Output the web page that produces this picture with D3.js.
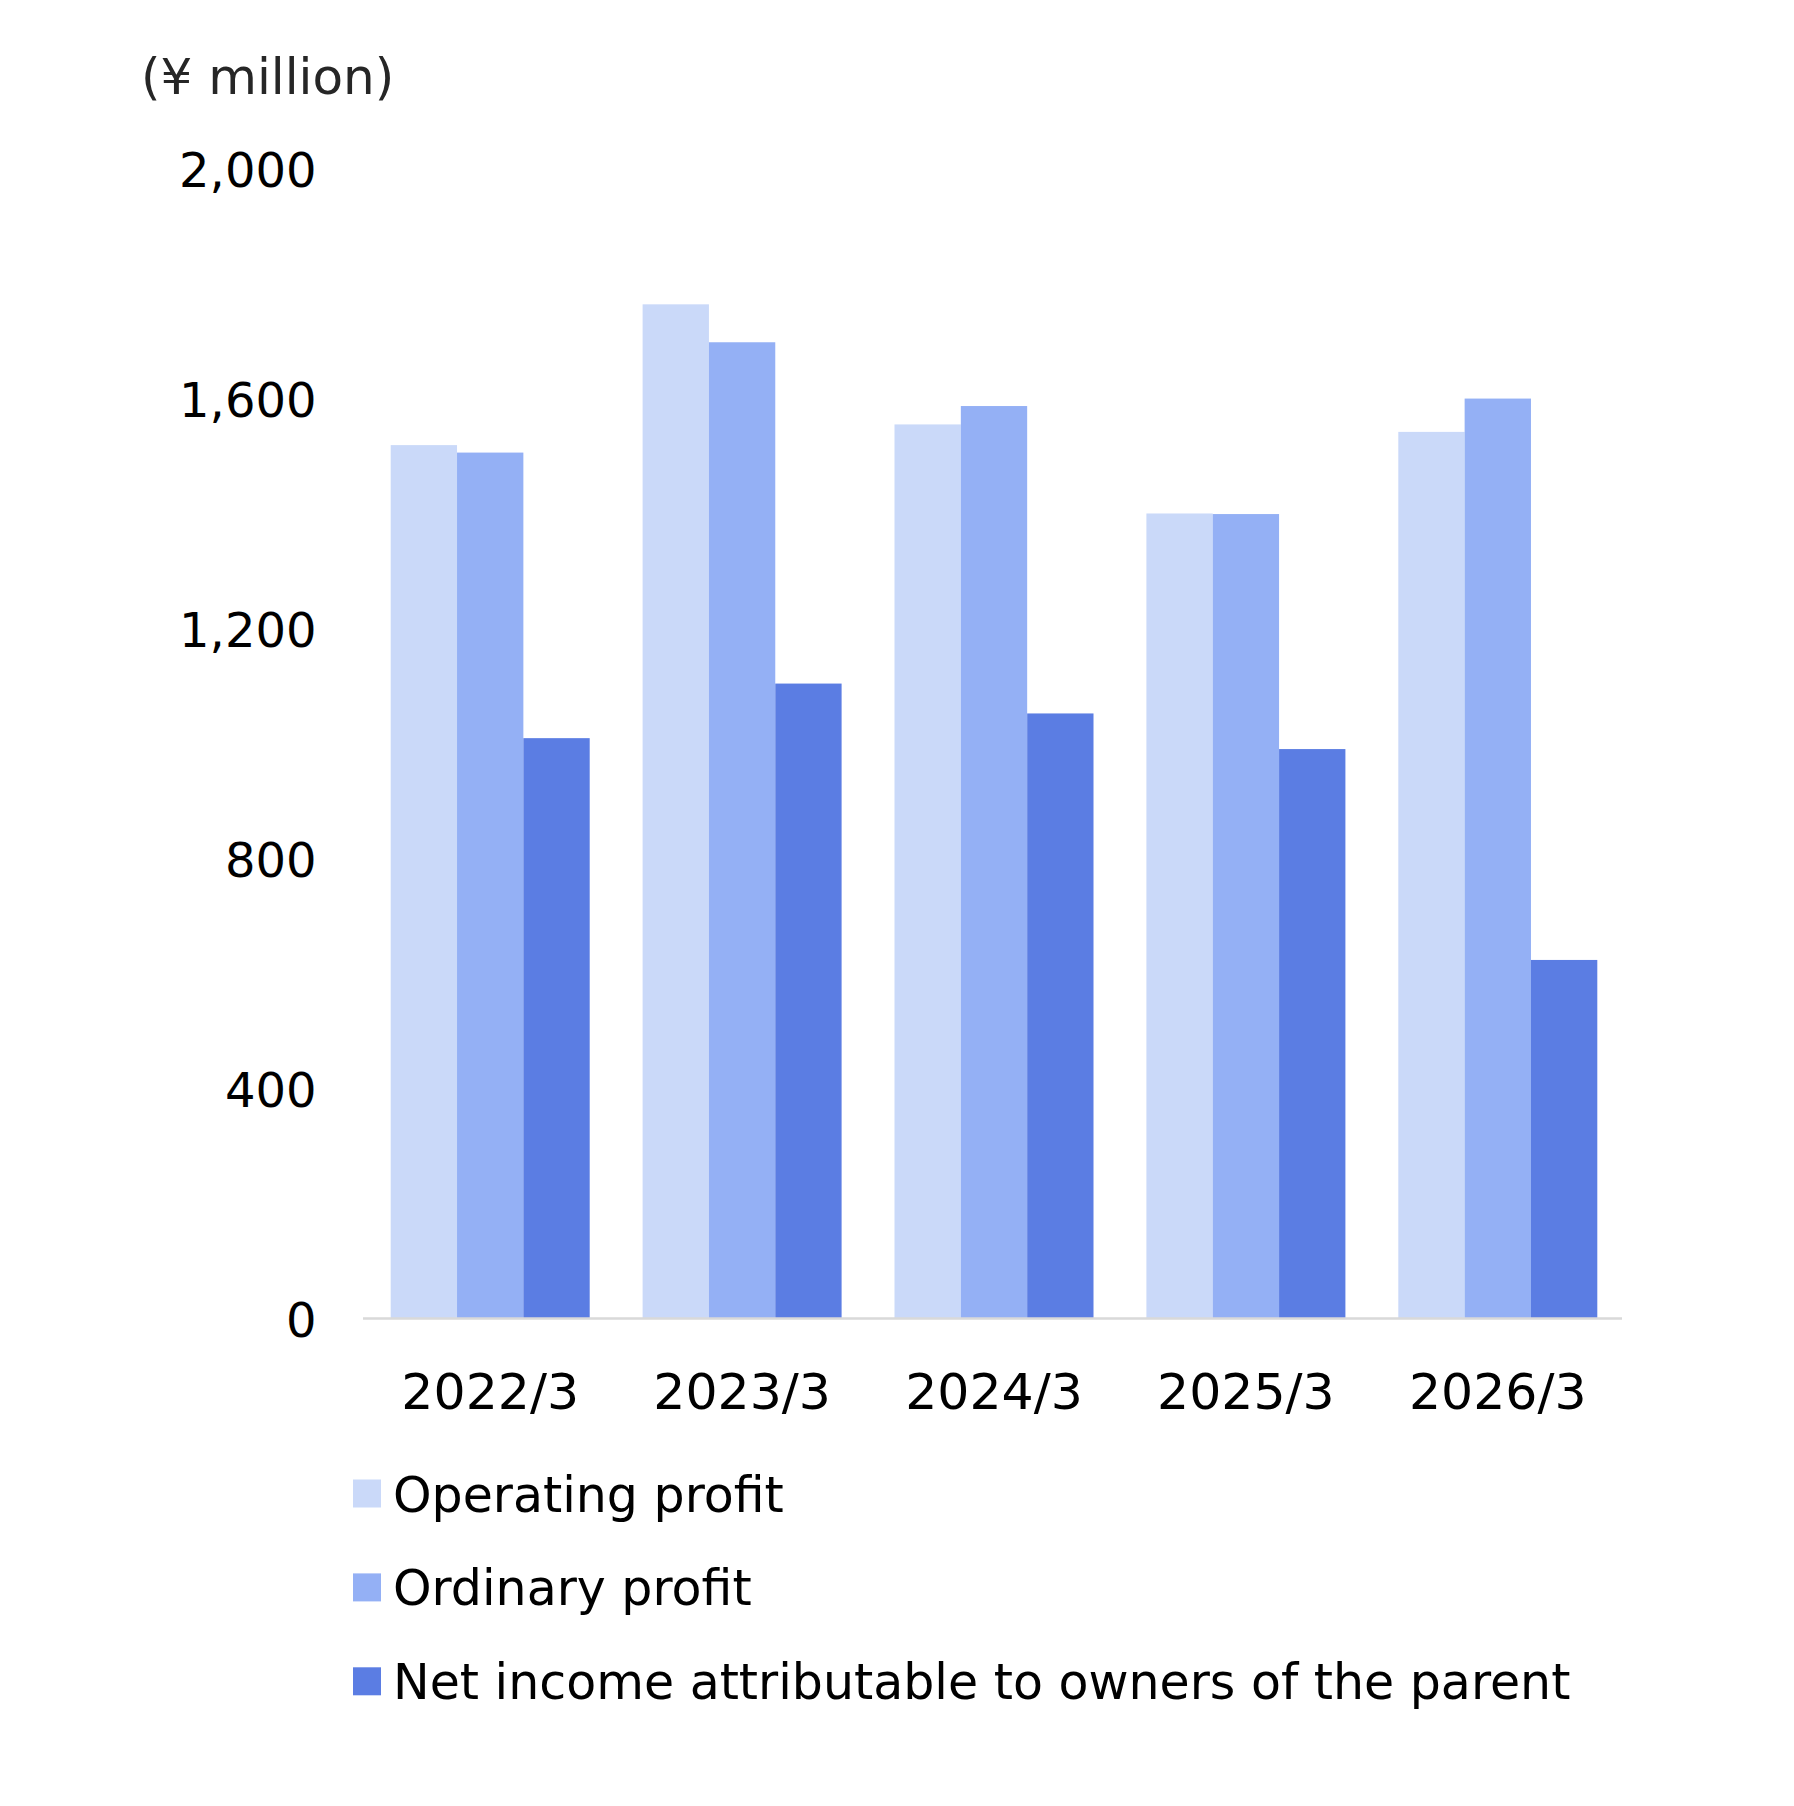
<!DOCTYPE html>
<html>
<head>
<meta charset="utf-8">
<script src="https://cdn.jsdelivr.net/npm/d3@7"></script>
<style>
  html, body { margin: 0; padding: 0; background: #fff; }
  svg { display: block; }
  text { font-family: "DejaVu Sans", Verdana, sans-serif; }
</style>
</head>
<body>
<svg id="chart" width="1794" height="1806"></svg>
<script>
const categories = ["2022/3", "2023/3", "2024/3", "2025/3", "2026/3"];
const seriesNames = ["Operating profit", "Ordinary profit", "Net income attributable to owners of the parent"];
const operatingProfit = [1520, 1765, 1556, 1401, 1543];
const ordinaryProfit = [1507, 1699, 1588, 1400, 1601];
const netIncome = [1010, 1105, 1053, 991, 624];
const yTicks = [0, 400, 800, 1200, 1600, 2000];
const colors = ["#cad9f9", "#94b0f5", "#5b7de3"];
const unitLabel = "(¥ million)";

const series = [operatingProfit, ordinaryProfit, netIncome];

const svg = d3.select("#chart");
const fsY = 48, fsX = 50.5, fsLegend = 49, fsTitle = 50;

const x0 = d3.scaleBand().domain(categories).range([364.5, 1623.5]).paddingInner(0.21).paddingOuter(0.104);
const x1 = d3.scaleBand().domain(d3.range(series.length)).range([0, x0.bandwidth()]).padding(0);
const y = d3.scaleLinear().domain([0, 2000]).range([1318.5, 169.3]);

// bars
const groups = svg.append("g").selectAll("g")
  .data(categories)
  .join("g")
  .attr("transform", d => `translate(${x0(d)},0)`);

groups.selectAll("rect")
  .data((d, i) => series.map((s, k) => ({k, v: s[i]})))
  .join("rect")
  .attr("x", d => x1(d.k))
  .attr("width", x1.bandwidth())
  .attr("y", d => y(d.v))
  .attr("height", d => y(0) - y(d.v))
  .attr("fill", d => colors[d.k]);

// baseline axis
const xAxis = d3.axisBottom(x0).tickSize(0).tickPadding(0);
const gx = svg.append("g").attr("transform", `translate(0,${y(0)})`).call(xAxis);
gx.select(".domain").attr("stroke", "#d9d9d9").attr("stroke-width", 2.7)
  .attr("d", `M${x0.range()[0] - 1.5},0H${x0.range()[1] - 1.5}`);
gx.selectAll(".tick text")
  .attr("font-size", fsX)
  .attr("fill", "#000")
  .attr("dy", null)
  .attr("y", 1408.5 - y(0))
  .style("font-family", '"DejaVu Sans", Verdana, sans-serif');

// y axis labels
const yAxis = d3.axisLeft(y).tickValues(yTicks).tickFormat(d3.format(",")).tickSize(0).tickPadding(0);
const gy = svg.append("g").attr("transform", `translate(316.5,0)`).call(yAxis);
gy.select(".domain").remove();
gy.selectAll(".tick text")
  .attr("font-size", fsY)
  .attr("fill", "#000")
  .attr("x", 0)
  .attr("dy", (0.3645 * fsY) + "px")
  .style("font-family", '"DejaVu Sans", Verdana, sans-serif');

// unit label
svg.append("text")
  .attr("x", 141)
  .attr("y", 94)
  .attr("font-size", fsTitle)
  .attr("fill", "#262626")
  .text(unitLabel);

// legend
const legend = svg.append("g").selectAll("g")
  .data(seriesNames)
  .join("g")
  .attr("transform", (d, i) => `translate(353,${1493.5 + i * 93.9})`);
legend.append("rect")
  .attr("x", 0).attr("y", -14).attr("width", 28).attr("height", 28)
  .attr("fill", (d, i) => colors[i]);
legend.append("text")
  .attr("x", 40)
  .attr("y", 18)
  .attr("font-size", fsLegend)
  .attr("fill", "#000")
  .text(d => d);
</script>
</body>
</html>
